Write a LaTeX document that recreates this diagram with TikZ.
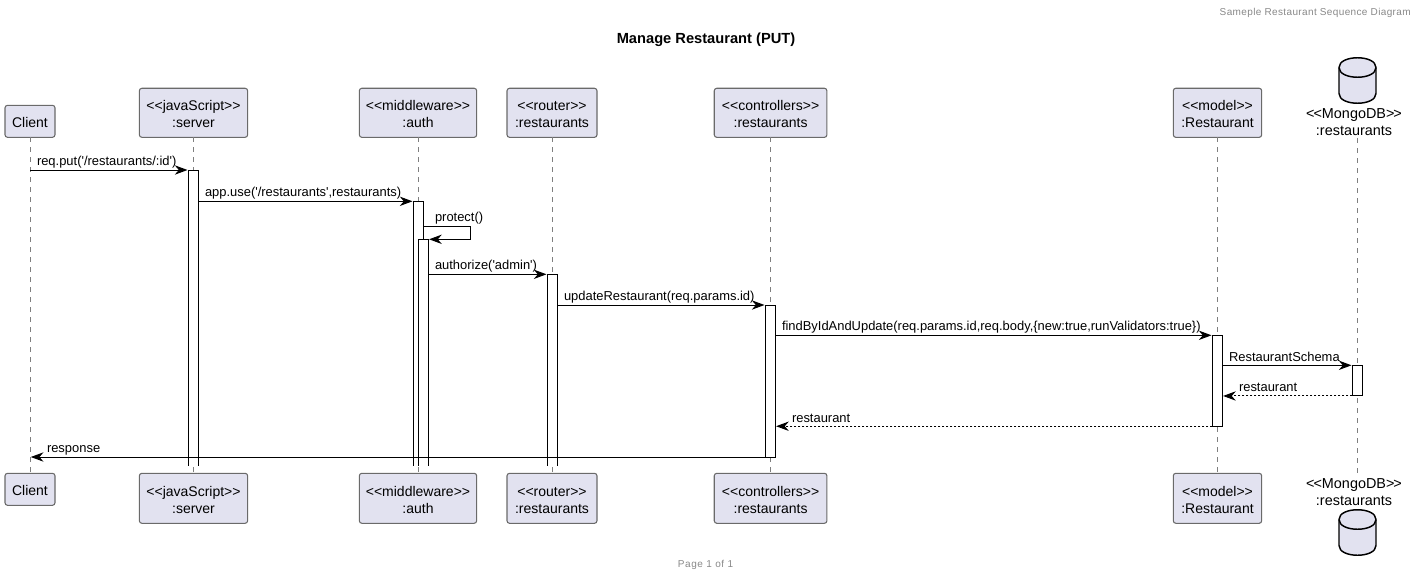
\documentclass[tikz,border=0pt]{standalone}
\usepackage{fontspec}
\usetikzlibrary{arrows.meta}
\newfontfamily\umlfont{Liberation Sans}
\definecolor{boxfill}{HTML}{E2E2F0}
\definecolor{boxline}{HTML}{6A6A6A}
\definecolor{lifegray}{HTML}{7F7F7F}
\definecolor{notegray}{HTML}{888888}
\newcommand{\lbl}[1]{\raisebox{-.75pt}[\height][\depth]{#1}}
\newcommand{\twoline}[2]{\raisebox{-2.1pt}[\height][\depth]{\begin{tabular}{@{}c@{}}#1\\#2\end{tabular}}}
\tikzset{
  actorbox/.style={draw=boxline,fill=boxfill,line width=.8pt,rounded corners=1.9pt,inner sep=0pt,outer sep=0pt,align=center,font=\umlfont\fontsize{10.5pt}{12.75pt}\selectfont,text=black},
  dbtext/.style={inner sep=0pt,outer sep=0pt,align=center,font=\umlfont\fontsize{10.8pt}{13pt}\selectfont,text=black},
  lifeline/.style={draw=lifegray,line width=.5pt,dash pattern=on 3.75pt off 3.75pt},
  actbar/.style={fill=white,minimum width=7.5pt,inner sep=0pt,outer sep=0pt,anchor=north},
  actedge/.style={draw=black,line width=.75pt},
  msg/.style={draw=black,line width=.75pt,shorten >=.6pt,-{Stealth[length=9.5pt,width=7pt,inset=3pt]}},
  ret/.style={msg,dash pattern=on 1.5pt off 1.5pt},
  msglabel/.style={anchor=base west,inner sep=0pt,outer sep=0pt,font=\umlfont\fontsize{9.7pt}{11pt}\selectfont,text=black},
  cylfront/.style={draw=black,line width=1.1pt}
}
\begin{document}
\begin{tikzpicture}[x=.75pt,y=-.75pt]
\useasboundingbox (0,0) rectangle (1418,575);
% header / title / footer
\node[anchor=base east,inner sep=0pt,text=notegray,font=\umlfont\fontsize{7.5pt}{9pt}\selectfont\addfontfeature{LetterSpace=3.7}] (hdr) at (1411,15) {Sameple Restaurant Sequence Diagram};
\node[anchor=base,inner sep=0pt,text=black,font=\umlfont\bfseries\fontsize{11pt}{12pt}\selectfont] (ttl) at (706,43) {Manage Restaurant (PUT)};
\node[anchor=base,inner sep=0pt,text=notegray,font=\umlfont\fontsize{7.5pt}{9pt}\selectfont\addfontfeature{LetterSpace=6}] (ftr) at (705.5,567) {Page 1 of 1};
% participants
\node[actorbox,minimum width=37.5pt,minimum height=24pt] (clientT) at (30,121.3) {\lbl{Client}};
\node[actorbox,minimum width=37.5pt,minimum height=24pt] (clientB) at (30,489.3) {\lbl{Client}};
\node[actorbox,minimum width=81.2pt,minimum height=36.8pt] (serverT) at (193.5,112.8) {\twoline{<{}<javaScript>{}>}{:server}};
\node[actorbox,minimum width=81.2pt,minimum height=37.5pt] (serverB) at (193.5,498.3) {\twoline{<{}<javaScript>{}>}{:server}};
\node[actorbox,minimum width=88pt,minimum height=36.8pt] (authT) at (418,112.8) {\twoline{<{}<middleware>{}>}{:auth}};
\node[actorbox,minimum width=88pt,minimum height=37.5pt] (authB) at (418,498.3) {\twoline{<{}<middleware>{}>}{:auth}};
\node[actorbox,minimum width=67.5pt,minimum height=36.8pt] (routerT) at (552,112.8) {\twoline{<{}<router>{}>}{:restaurants}};
\node[actorbox,minimum width=67.5pt,minimum height=37.5pt] (routerB) at (552,498.3) {\twoline{<{}<router>{}>}{:restaurants}};
\node[actorbox,minimum width=84.5pt,minimum height=36.8pt] (ctrlT) at (770.6,112.8) {\twoline{<{}<controllers>{}>}{:restaurants}};
\node[actorbox,minimum width=84.5pt,minimum height=37.5pt] (ctrlB) at (770.6,498.3) {\twoline{<{}<controllers>{}>}{:restaurants}};
\node[actorbox,minimum width=66.3pt,minimum height=36.8pt] (modelT) at (1217.5,112.8) {\twoline{<{}<model>{}>}{:Restaurant}};
\node[actorbox,minimum width=66.3pt,minimum height=37.5pt] (modelB) at (1217.5,498.3) {\twoline{<{}<model>{}>}{:Restaurant}};
\node[dbtext] (dbT) at (1354,120.7) {\twoline{<\kern-.8pt<MongoDB>\kern-.8pt>}{:restaurants}};
\node[dbtext] (dbB) at (1354,490.9) {\twoline{<\kern-.8pt<MongoDB>\kern-.8pt>}{:restaurants}};
% database cylinders
\foreach \t in {57.5,509.5}{
  \fill[boxfill] (1339,\t+10) .. controls (1339,\t-3) and (1376,\t-3) .. (1376,\t+10)
     -- (1376,\t+36) .. controls (1376,\t+49) and (1339,\t+49) .. (1339,\t+36) -- cycle;
  \draw[cylfront] (1339,\t+10) .. controls (1339,\t-3) and (1376,\t-3) .. (1376,\t+10)
     -- (1376,\t+36) .. controls (1376,\t+49) and (1339,\t+49) .. (1339,\t+36) -- cycle;
  \draw[cylfront] (1339,\t+10) .. controls (1339,\t+23) and (1376,\t+23) .. (1376,\t+10);
}
% lifelines
\draw[lifeline] (clientT.south) -- (clientB.north);
\draw[lifeline] (serverT.south) -- (serverB.north);
\draw[lifeline] (authT.south) -- (authB.north);
\draw[lifeline] (routerT.south) -- (routerB.north);
\draw[lifeline] (ctrlT.south) -- (ctrlB.north);
\draw[lifeline] (modelT.south) -- (modelB.north);
\coordinate (dbTop) at (1357.5,138);
\coordinate (dbBot) at (1357.5,473);
\draw[lifeline] (dbTop) -- (dbBot);
% activation bars; the first ones stay open at the bottom
\node[actbar,minimum height=221.8pt] (acServer) at (193.3,170) {};
\draw[actedge] (acServer.south west) -- (acServer.north west) -- (acServer.north east) -- (acServer.south east);
\node[actbar,minimum height=198.3pt] (acAuth) at (418.3,201.3) {};
\draw[actedge] (acAuth.south west) -- (acAuth.north west) -- (acAuth.north east) -- (acAuth.south east);
\node[actbar,minimum height=169.8pt] (acAuthB) at (423.3,239.3) {};
\draw[actedge] (acAuthB.south west) -- (acAuthB.north west) -- (acAuthB.north east) -- (acAuthB.south east);
\node[actbar,minimum height=143.6pt] (acRouter) at (552.3,274.3) {};
\draw[actedge] (acRouter.south west) -- (acRouter.north west) -- (acRouter.north east) -- (acRouter.south east);
\node[actbar,minimum height=114pt] (acCtrl) at (770.3,305) {};
\draw[actedge] (acCtrl.south west) rectangle (acCtrl.north east);
\node[actbar,minimum height=68.2pt] (acModel) at (1217.3,335.3) {};
\draw[actedge] (acModel.south west) rectangle (acModel.north east);
\node[actbar,minimum height=23pt] (acDb) at (1357.3,365.3) {};
\draw[actedge] (acDb.south west) rectangle (acDb.north east);
% messages
\draw[msg] (clientT.south |- acServer.north) -- (acServer.north west);
\node[msglabel] (m1) at (37,165) {req.put('/restaurants/:id')};
\draw[msg] (acServer.east |- acAuth.north) -- (acAuth.north west);
\node[msglabel] (m2) at (205,196) {app.use('/restaurants',restaurants)};
\coordinate (loopR) at (470.5,226);
\draw[msg] (acAuth.east |- loopR) -- (loopR) -- (loopR |- acAuthB.north) -- (acAuthB.north east);
\node[msglabel] (m3) at (435,221) {protect()};
\draw[msg] (acAuthB.east |- acRouter.north) -- (acRouter.north west);
\node[msglabel] (m4) at (435,269) {authorize('admin')};
\draw[msg] (acRouter.east |- acCtrl.north) -- (acCtrl.north west);
\node[msglabel] (m5) at (564,300) {updateRestaurant(req.params.id)};
\draw[msg] (acCtrl.east |- acModel.north) -- (acModel.north west);
\node[msglabel] (m6) at (782,330) {findByIdAndUpdate(req.params.id,req.body,\{new:true,runValidators:true\})};
\draw[msg] (acModel.east |- acDb.north) -- (acDb.north west);
\node[msglabel] (m7) at (1229,361) {RestaurantSchema};
\draw[ret] (acDb.south west) -- (acModel.east |- acDb.south);
\node[msglabel] (m8) at (1239,391) {restaurant};
\draw[ret] (acModel.south west) -- (acCtrl.east |- acModel.south);
\node[msglabel] (m9) at (792,422) {restaurant};
\draw[msg] (acCtrl.south west) -- (clientT.south |- acCtrl.south);
\node[msglabel] (m10) at (47,452) {response};
\end{tikzpicture}
\end{document}
